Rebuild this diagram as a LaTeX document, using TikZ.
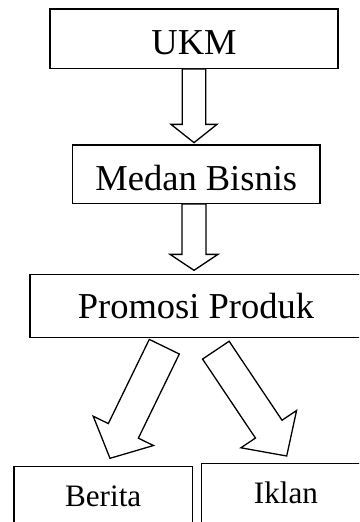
\documentclass[tikz,border=0pt]{standalone}
\usepackage{fontspec}
\setmainfont{Liberation Serif}
\usetikzlibrary{calc}
\tikzset{
  box/.style={draw, line width=1.3pt, inner sep=0pt, text depth=0pt, fill=white},
  bigtext/.style={font=\fontsize{36.5}{40}\selectfont},
  smalltext/.style={font=\fontsize{31.2}{36}\selectfont},
  blockarrow/.style={draw, line width=1.3pt, fill=white, line join=miter}
}
\newcommand\blockarr[5]{%
  \coordinate (ba-b) at ($(#2)!#5!(#1)$);
  \draw[blockarrow] ($(#1)!#3!90:(#2)$) -- ($(ba-b)!#3!90:(#2)$) -- ($(ba-b)!#4!90:(#2)$) -- (#2) -- ($(ba-b)!#4!-90:(#2)$) -- ($(ba-b)!#3!-90:(#2)$) -- ($(#1)!#3!-90:(#2)$) -- cycle;}
\begin{document}
\begin{tikzpicture}[x=1pt,y=-1pt]
\useasboundingbox (0,0) rectangle (359,522);
\clip (0,0) rectangle (359,522);
% boxes
\node[box, bigtext, minimum width=288pt, minimum height=59.3pt, text height=31.3pt] (ukm) at (194,38.65) {UKM};
\node[box, bigtext, minimum width=247.3pt, minimum height=58.3pt, text height=31.7pt] (medan) at (196.3,174.15) {Medan Bisnis};
\node[box, bigtext, minimum width=332pt, minimum height=63.4pt, text height=24.6pt] (promosi) at (196,306) {Promosi Produk};
\node[box, smalltext, minimum width=178.3pt, minimum height=59pt, text height=21pt] (berita) at (103.2,496.2) {Berita};
\node[box, smalltext, minimum width=168.6pt, minimum height=59pt, text height=20.4pt] (iklan) at (286,492.8) {Iklan};
% connectors
\coordinate (a1s) at (ukm.south);
\coordinate (a1e) at ($(ukm.south |- medan.north)+(0,-1.7)$);
\blockarr{a1s}{a1e}{11.7pt}{23pt}{18.3pt}
\coordinate (a2s) at (ukm.south |- medan.south);
\coordinate (a2e) at ($(ukm.south |- promosi.north)+(0,-3.3)$);
\blockarr{a2s}{a2e}{12pt}{24pt}{16pt}
\coordinate (a3s) at (164.3,346.7);
\coordinate (a3e) at (110,458.3);
\blockarr{a3s}{a3e}{16.7pt}{33.5pt}{30.5pt}
\coordinate (a4s) at (215.85,350.15);
\coordinate (a4e) at (286.7,456);
\blockarr{a4s}{a4e}{16pt}{33.5pt}{32.3pt}
\end{tikzpicture}
\end{document}
